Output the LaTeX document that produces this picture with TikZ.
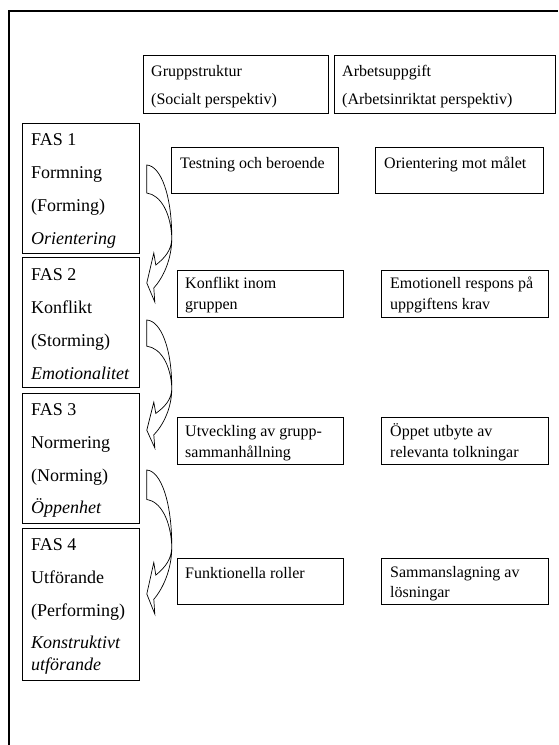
\documentclass[tikz,border=0pt]{standalone}
\usepackage{fontspec}
\setmainfont{Liberation Serif}
\usetikzlibrary{calc}
\tikzset{
  box/.style={draw=black, line width=0.8pt, inner sep=0pt, anchor=north west},
  fastext/.style={font=\fontsize{18}{20}\selectfont, inner sep=0pt, anchor=base west},
  midtext/.style={font=\fontsize{16}{18}\selectfont, inner sep=0pt, anchor=base west},
  arrowline/.style={draw=black, line width=0.7pt, fill=white, line join=miter},
}
\newcommand\bendarrow[2]{%
  \draw[arrowline, shift={(#1)}, yscale=#2]
    (0,0) .. controls (14,1) and (25,30) .. (25,73)
    .. controls (25,95) and (16,113) .. (7,123)
    -- (8,137) -- (0,118) -- (7,88) -- (9,100)
    .. controls (18,93) and (25,85) .. (25,73)
    .. controls (24,48) and (14,30) .. (0,28) -- cycle;}
\begin{document}
\begin{tikzpicture}[x=1pt,y=-1pt]
\useasboundingbox (0,0) rectangle (558,745);
% outer frame
\draw[line width=2pt] (9,745) -- (9,11.3) -- (558,11.3);

% header boxes
\node[box, minimum width=185pt, minimum height=58pt] (h1) at (143,55) {};
\node[box, minimum width=221pt, minimum height=58pt] (h2) at (334,55) {};
\node[midtext] (h1a) at (151,76) {Gruppstruktur};
\node[midtext] (h1b) at (151,104) {(Socialt perspektiv)};
\node[midtext] (h2a) at (342,76) {Arbetsuppgift};
\node[midtext] (h2b) at (342,104) {(Arbetsinriktat perspektiv)};

% phase boxes
\node[box, minimum width=117pt, minimum height=130pt] (f1) at (22,123) {};
\node[box, minimum width=117pt, minimum height=130pt] (f2) at (22,257) {};
\node[box, minimum width=117pt, minimum height=130pt] (f3) at (22,393) {};
\node[box, minimum width=117pt, minimum height=152pt] (f4) at (22,528) {};

\node[fastext] (f1a) at (31,145) {FAS 1};
\node[fastext] (f1b) at (31,178) {Formning};
\node[fastext] (f1c) at (31,211) {(Forming)};
\node[fastext] (f1d) at (31,244) {\itshape Orientering};

\node[fastext] (f2a) at (31,280) {FAS 2};
\node[fastext] (f2b) at (31,313) {Konflikt};
\node[fastext] (f2c) at (31,346) {(Storming)};
\node[fastext] (f2d) at (31,379) {\itshape Emotionalitet};

\node[fastext] (f3a) at (31,415) {FAS 3};
\node[fastext] (f3b) at (31,448) {Normering};
\node[fastext] (f3c) at (31,481) {(Norming)};
\node[fastext] (f3d) at (31,513) {\itshape Öppenhet};

\node[fastext] (f4a) at (31,550) {FAS 4};
\node[fastext] (f4b) at (31,583) {Utförande};
\node[fastext] (f4c) at (31,616) {(Performing)};
\node[fastext] (f4d) at (31,648) {\itshape Konstruktivt};
\node[fastext] (f4e) at (31,670) {\itshape utförande};

% curved arrows between phases
\bendarrow{$(f1.north east)+(7,42)$}{1}
\bendarrow{$(f2.north east)+(7,63)$}{0.934}
\bendarrow{$(f3.north east)+(7,77)$}{1.051}

% group structure column
\node[box, minimum width=167pt, minimum height=46pt] (m1) at (171,147) {};
\node[box, minimum width=166pt, minimum height=47pt] (m2) at (177,270) {};
\node[box, minimum width=166pt, minimum height=47pt] (m3) at (177,417) {};
\node[box, minimum width=166pt, minimum height=46pt] (m4) at (177,558) {};
\node[midtext] (m1a) at (180,168) {Testning och beroende};
\node[midtext] (m2a) at (185,288) {Konflikt inom};
\node[midtext] (m2b) at (185,309) {gruppen};
\node[midtext] (m3a) at (185,436) {Utveckling av grupp-};
\node[midtext] (m3b) at (185,457) {sammanhållning};
\node[midtext] (m4a) at (185,578) {Funktionella roller};

% task column
\node[box, minimum width=168pt, minimum height=46pt] (r1) at (375,147) {};
\node[box, minimum width=167pt, minimum height=47pt] (r2) at (381,270) {};
\node[box, minimum width=167pt, minimum height=47pt] (r3) at (381,417) {};
\node[box, minimum width=167pt, minimum height=46pt] (r4) at (381,558) {};
\node[midtext] (r1a) at (384,168) {Orientering mot målet};
\node[midtext] (r2a) at (390,288) {Emotionell respons på};
\node[midtext] (r2b) at (390,309) {uppgiftens krav};
\node[midtext] (r3a) at (390,436) {Öppet utbyte av};
\node[midtext] (r3b) at (390,457) {relevanta tolkningar};
\node[midtext] (r4a) at (390,577) {Sammanslagning av};
\node[midtext] (r4b) at (390,597) {lösningar};
\end{tikzpicture}
\end{document}
